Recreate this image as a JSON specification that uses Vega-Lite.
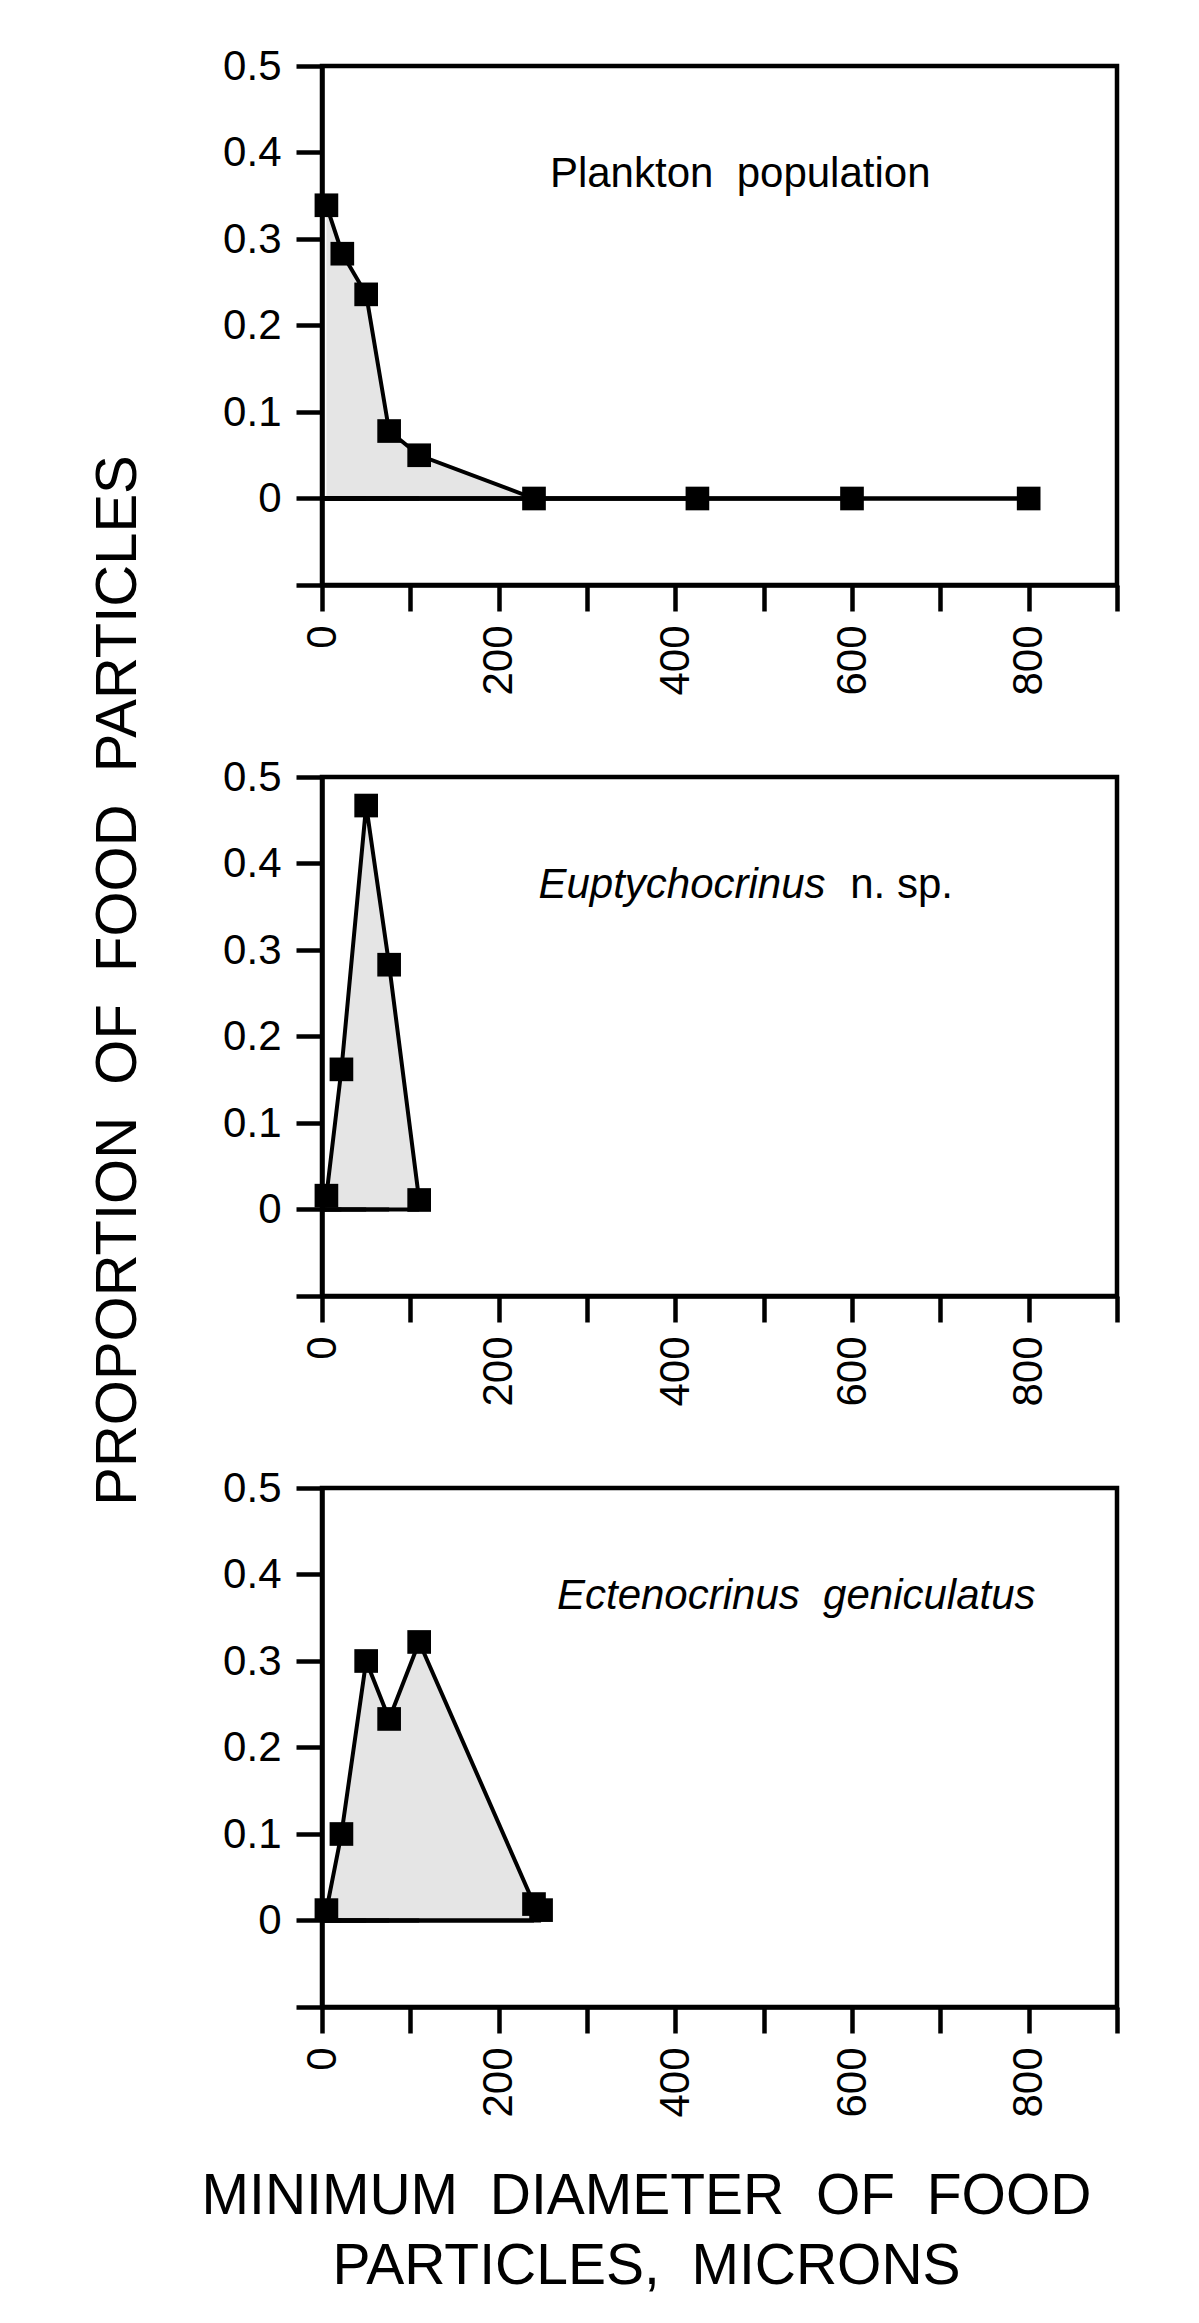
{
  "$schema": "https://vega.github.io/schema/vega-lite/v6.json",
  "padding": {"left": 86, "top": 42, "right": 5, "bottom": 5},
  "background": "white",
  "bounds": "flush",
  "spacing": 192,
  "config": {
    "font": "Liberation Sans",
    "view": {"stroke": "black", "strokeWidth": 4.5},
    "axis": {
      "domainColor": "black", "domainWidth": 4.5,
      "tickColor": "black", "tickWidth": 4.5, "tickSize": 26,
      "labelFont": "Liberation Sans", "labelFontSize": 42, "labelColor": "black",
      "labelFlush": false, "labelOverlap": false, "grid": false,
      "titleFont": "Liberation Sans", "titleFontSize": 57, "titleFontWeight": "normal", "titleColor": "black"
    }
  },
  "datasets": {
    "plankton": [
      {"d": 5, "p": 0.339}, {"d": 23, "p": 0.283}, {"d": 50, "p": 0.236}, {"d": 76, "p": 0.078},
      {"d": 110, "p": 0.05}, {"d": 240, "p": 0}, {"d": 425, "p": 0}, {"d": 600, "p": 0}, {"d": 800, "p": 0}
    ],
    "eupty": [
      {"d": 5, "p": 0.016}, {"d": 22, "p": 0.162}, {"d": 50, "p": 0.467}, {"d": 76, "p": 0.283}, {"d": 110, "p": 0.011}
    ],
    "ecteno": [
      {"d": 5, "p": 0.012}, {"d": 22, "p": 0.1}, {"d": 50, "p": 0.3}, {"d": 76, "p": 0.233},
      {"d": 110, "p": 0.322}, {"d": 240, "p": 0.019}, {"d": 248, "p": 0.012}
    ]
  },
  "vconcat": [
    {
      "width": 795, "height": 519,
      "layer": [
        {
          "data": {"name": "plankton"},
          "encoding": {
            "x": {"field": "d", "type": "quantitative", "scale": {"domain": [0, 900], "nice": false},
              "axis": {"values": [0,100,200,300,400,500,600,700,800,900], "labelExpr": "datum.value % 200 === 0 && datum.value < 900 ? datum.label : ''", "labelAngle": 270, "labelPadding": 14, "title": null}},
            "y": {"field": "p", "type": "quantitative", "scale": {"domain": [-0.1, 0.5], "nice": false},
              "axis": {"values": [-0.1,0,0.1,0.2,0.3,0.4,0.5], "labelExpr": "datum.value < -0.05 ? '' : (abs(datum.value) < 0.001 ? '0' : format(datum.value, '.1f'))", "labelPadding": 15, "title": null}}
          },
          "layer": [
            {"mark": {"type": "area", "color": "#e5e5e5"}, "encoding": {"y2": {"datum": 0}}},
            {"mark": {"type": "rule", "color": "black", "strokeWidth": 4}, "encoding": {"x": {"datum": 0}, "x2": {"aggregate": "max", "field": "d"}, "y": {"datum": 0}}},
            {"mark": {"type": "line", "color": "black", "strokeWidth": 4}, "encoding": {}},
            {"mark": {"type": "point", "shape": "square", "filled": true, "size": 560, "color": "black", "opacity": 1}}
          ]
        },
        {
          "data": {"values": [{"label": "Plankton\u00a0\u00a0population", "lx": 258, "ly": 0.36}]},
          "mark": {"type": "text", "align": "left", "baseline": "alphabetic", "fontSize": 42, "color": "black"},
          "encoding": {"x": {"field": "lx", "type": "quantitative"}, "y": {"field": "ly", "type": "quantitative"}, "text": {"field": "label"}}
        }
      ]
    },
    {
      "width": 795, "height": 519,
      "layer": [
        {
          "data": {"name": "eupty"},
          "encoding": {
            "x": {"field": "d", "type": "quantitative", "scale": {"domain": [0, 900], "nice": false},
              "axis": {"values": [0,100,200,300,400,500,600,700,800,900], "labelExpr": "datum.value % 200 === 0 && datum.value < 900 ? datum.label : ''", "labelAngle": 270, "labelPadding": 14, "title": null}},
            "y": {"field": "p", "type": "quantitative", "scale": {"domain": [-0.1, 0.5], "nice": false},
              "axis": {"values": [-0.1,0,0.1,0.2,0.3,0.4,0.5], "labelExpr": "datum.value < -0.05 ? '' : (abs(datum.value) < 0.001 ? '0' : format(datum.value, '.1f'))", "labelPadding": 15,
                "title": "PROPORTION\u00a0\u00a0OF\u00a0\u00a0FOOD\u00a0\u00a0PARTICLES", "titleX": -187, "titleY": 203, "titleAngle": 270, "titleAlign": "center", "titleBaseline": "alphabetic", "titleFontSize": 58}}
          },
          "layer": [
            {"mark": {"type": "area", "color": "#e5e5e5"}, "encoding": {"y2": {"datum": 0}}},
            {"mark": {"type": "rule", "color": "black", "strokeWidth": 4}, "encoding": {"x": {"datum": 0}, "x2": {"aggregate": "max", "field": "d"}, "y": {"datum": 0}}},
            {"mark": {"type": "line", "color": "black", "strokeWidth": 4}, "encoding": {}},
            {"mark": {"type": "point", "shape": "square", "filled": true, "size": 560, "color": "black", "opacity": 1}}
          ]
        },
        {
          "data": {"values": [{"label": "Euptychocrinus", "lx": 245, "ly": 0.36}]},
          "mark": {"type": "text", "align": "left", "baseline": "alphabetic", "fontSize": 42, "fontStyle": "italic", "color": "black"},
          "encoding": {"x": {"field": "lx", "type": "quantitative"}, "y": {"field": "ly", "type": "quantitative"}, "text": {"field": "label"}}
        },
        {
          "data": {"values": [{"label": "n. sp.", "lx": 598, "ly": 0.36}]},
          "mark": {"type": "text", "align": "left", "baseline": "alphabetic", "fontSize": 42, "color": "black"},
          "encoding": {"x": {"field": "lx", "type": "quantitative"}, "y": {"field": "ly", "type": "quantitative"}, "text": {"field": "label"}}
        }
      ]
    },
    {
      "width": 795, "height": 519,
      "layer": [
        {
          "data": {"name": "ecteno"},
          "encoding": {
            "x": {"field": "d", "type": "quantitative", "scale": {"domain": [0, 900], "nice": false},
              "axis": {"values": [0,100,200,300,400,500,600,700,800,900], "labelExpr": "datum.value % 200 === 0 && datum.value < 900 ? datum.label : ''", "labelAngle": 270, "labelPadding": 14,
                "title": ["MINIMUM\u00a0\u00a0DIAMETER\u00a0\u00a0OF\u00a0\u00a0FOOD", "PARTICLES,\u00a0\u00a0MICRONS"],
                "titleX": 324, "titleY": 206, "titleAlign": "center", "titleBaseline": "alphabetic", "titleLineHeight": 70, "titleAngle": 0}},
            "y": {"field": "p", "type": "quantitative", "scale": {"domain": [-0.1, 0.5], "nice": false},
              "axis": {"values": [-0.1,0,0.1,0.2,0.3,0.4,0.5], "labelExpr": "datum.value < -0.05 ? '' : (abs(datum.value) < 0.001 ? '0' : format(datum.value, '.1f'))", "labelPadding": 15, "title": null}}
          },
          "layer": [
            {"mark": {"type": "area", "color": "#e5e5e5"}, "encoding": {"y2": {"datum": 0}}},
            {"mark": {"type": "rule", "color": "black", "strokeWidth": 4}, "encoding": {"x": {"datum": 0}, "x2": {"aggregate": "max", "field": "d"}, "y": {"datum": 0}}},
            {"mark": {"type": "line", "color": "black", "strokeWidth": 4}, "encoding": {}},
            {"mark": {"type": "point", "shape": "square", "filled": true, "size": 560, "color": "black", "opacity": 1}}
          ]
        },
        {
          "data": {"values": [{"label": "Ectenocrinus\u00a0\u00a0geniculatus", "lx": 266, "ly": 0.36}]},
          "mark": {"type": "text", "align": "left", "baseline": "alphabetic", "fontSize": 42, "fontStyle": "italic", "color": "black"},
          "encoding": {"x": {"field": "lx", "type": "quantitative"}, "y": {"field": "ly", "type": "quantitative"}, "text": {"field": "label"}}
        }
      ]
    }
  ]
}
